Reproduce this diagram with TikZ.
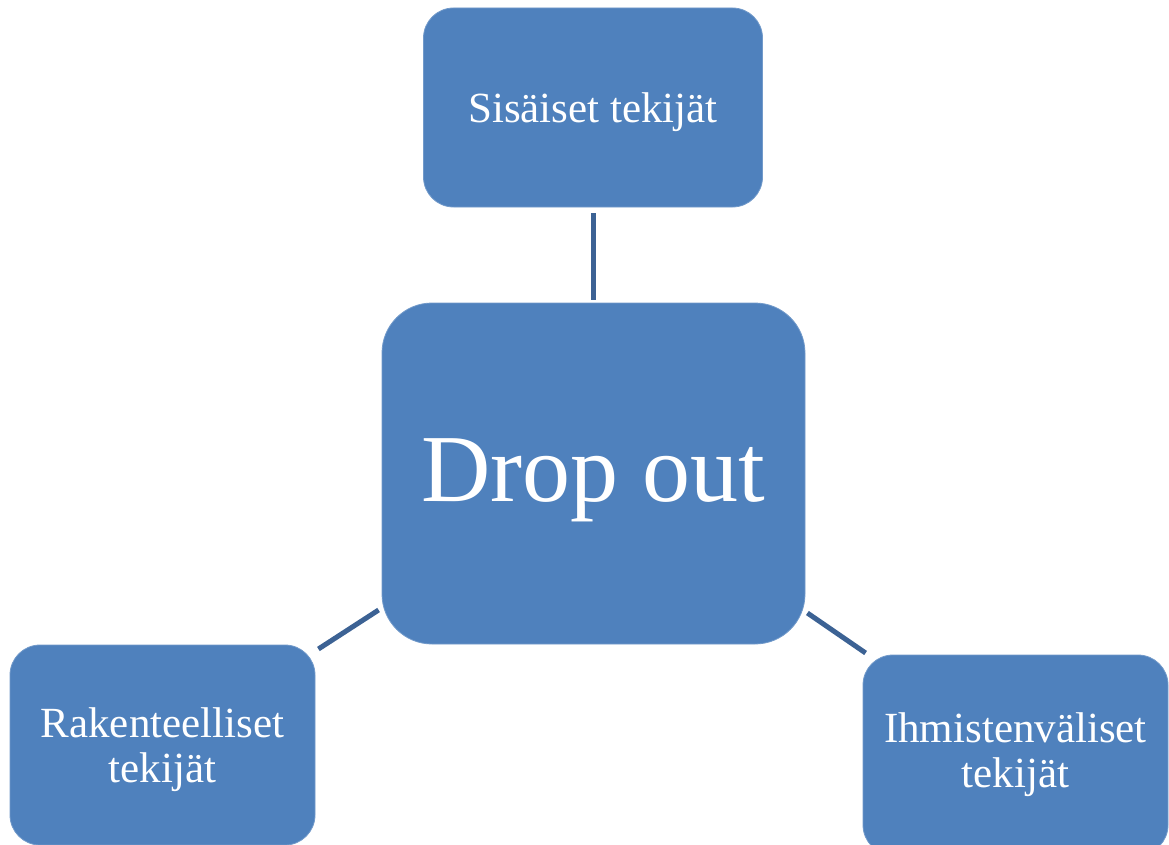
\documentclass[tikz,border=0pt]{standalone}
\usepackage{fontspec}
\setmainfont{Liberation Serif}
\definecolor{boxfill}{HTML}{4F81BD}
\definecolor{linkcol}{HTML}{3C6294}
\begin{document}
\begin{tikzpicture}[x=1pt,y=-1pt,
  card/.style={rectangle, fill=boxfill, draw=boxfill!80!white, line width=0.8pt, text=white, inner sep=0pt, align=center},
  link/.style={draw=linkcol, line width=5pt}]
\useasboundingbox (0,0) rectangle (1169,845);
\begin{scope}
\clip (0,0) rectangle (1169,845);
\node[card, rounded corners=30pt, minimum width=339pt, minimum height=199pt, text depth=0pt, font=\fontsize{43}{45}\selectfont] (t) at (593,107.5) {Sisäiset tekijät};
\node[card, rounded corners=50pt, minimum width=423pt, minimum height=341pt, text depth=6pt, font=\fontsize{96}{100}\selectfont] (c) at (593.5,473.5) {Drop out};
\node[card, rounded corners=30pt, minimum width=305pt, minimum height=200pt, text depth=0pt, font=\fontsize{43}{45}\selectfont] (l) at (162.5,745) {Rakenteelliset\\tekijät};
\node[card, rounded corners=30pt, minimum width=305pt, minimum height=200pt, font=\fontsize{43}{45}\selectfont] (r) at (1015.5,755) {Ihmistenväliset\\tekijät};
\end{scope}
\draw[link] ([yshift=-6pt]t.south) -- ([yshift=3pt]t.south |- c.north);
\draw[link] ([xshift=-3pt,yshift=-136.5pt]c.west) -- ([xshift=3pt,yshift=96pt]l.east);
\draw[link] ([xshift=2pt,yshift=-139.5pt]c.east) -- ([xshift=3pt,yshift=102pt]r.west);
\end{tikzpicture}
\end{document}
